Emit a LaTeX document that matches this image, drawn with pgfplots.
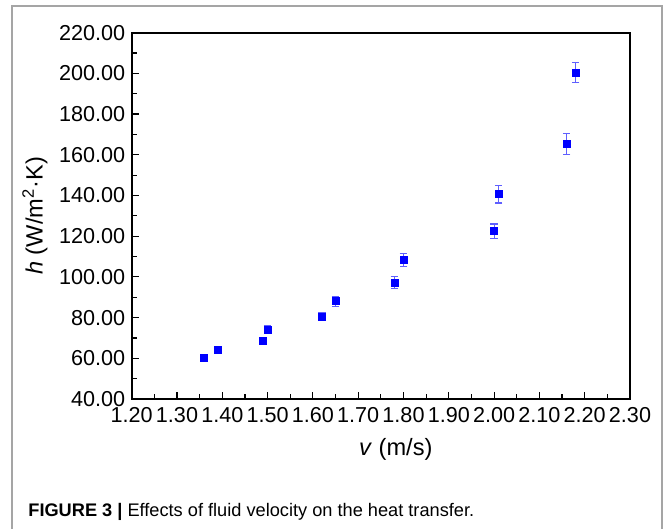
\documentclass[border=0pt]{standalone}
\usepackage{fontspec}
\setmainfont{Liberation Sans}
\usepackage{pgfplots}
\usepackage{pgfplotstable}
\pgfplotsset{compat=1.18}
\definecolor{markblue}{RGB}{0,0,255}
\definecolor{errblue}{RGB}{95,95,255}
\definecolor{framegray}{RGB}{165,165,165}

% v (m/s), h (W/m^2 K), error
\pgfplotstableread{
x     y      e
1.36  60.0   1.4
1.39  64.0   1.5
1.49  68.6   1.6
1.50  74.1   2.0
1.62  80.5   2.0
1.65  88.0   2.5
1.78  97.2   3.0
1.80  108.3  3.3
2.00  122.4  3.6
2.01  140.6  4.3
2.16  165.3  5.0
2.18  200.4  4.9
}\heattable

\begin{document}
\begin{tikzpicture}
\path[use as bounding box] (-65.85pt,-65pt) rectangle (266.15pt,199.5pt);
\draw[framegray, line width=0.8pt] (-59.85pt,-66pt) -- (-59.85pt,196.5pt) -- (265.15pt,196.5pt) -- (265.15pt,-66pt);
\node[anchor=base west, inner sep=0pt, font=\fontsize{9.1}{11}\selectfont] at (-51.85pt,-59pt)
  {\textbf{FIGURE 3 |} Effects of fluid velocity on the heat transfer.};
\begin{axis}[
  at={(0pt,0pt)}, anchor=south west,
  scale only axis,
  width=249.15pt, height=183.15pt,
  xmin=1.2, xmax=2.3, ymin=40, ymax=220,
  xtick={1.2,1.3,1.4,1.5,1.6,1.7,1.8,1.9,2.0,2.1,2.2,2.3},
  ytick={40,60,80,100,120,140,160,180,200,220},
  minor x tick num=1,
  minor y tick num=1,
  tick align=inside,
  xtick pos=left, ytick pos=left,
  major tick length=3.5pt, minor tick length=2.5pt,
  axis line style={line width=0.9pt},
  tick style={black, line width=0.6pt},
  ticklabel style={font=\fontsize{10.8}{13}\selectfont},
  xticklabel style={yshift=-0.5pt},
  yticklabel style={xshift=0.3pt},
  /pgf/number format/fixed,
  /pgf/number format/fixed zerofill,
  /pgf/number format/precision=2,
  /pgf/number format/assume math mode=true,
  scaled ticks=false,
  xlabel={\textit{v} (m/s)},
  ylabel={\textit{h} (W/m\textsuperscript{2}·K)},
  label style={font=\fontsize{11.8}{14}\selectfont},
  xlabel style={at={(axis description cs:0.53,0)}, anchor=base, yshift=-28.5pt},
  ylabel style={at={(axis description cs:-0.194,0.5)}, anchor=center, rotate=0},
  clip=false,
]
\addplot[only marks, mark=square*, mark size=1.75pt, color=markblue,
  error bars/.cd, y dir=both, y explicit,
  error bar style={errblue, line width=0.55pt},
  error mark options={rotate=90, errblue, mark size=1.9pt, line width=0.55pt}]
  table[x=x, y=y, y error=e] {\heattable};
\end{axis}
\end{tikzpicture}
\end{document}
